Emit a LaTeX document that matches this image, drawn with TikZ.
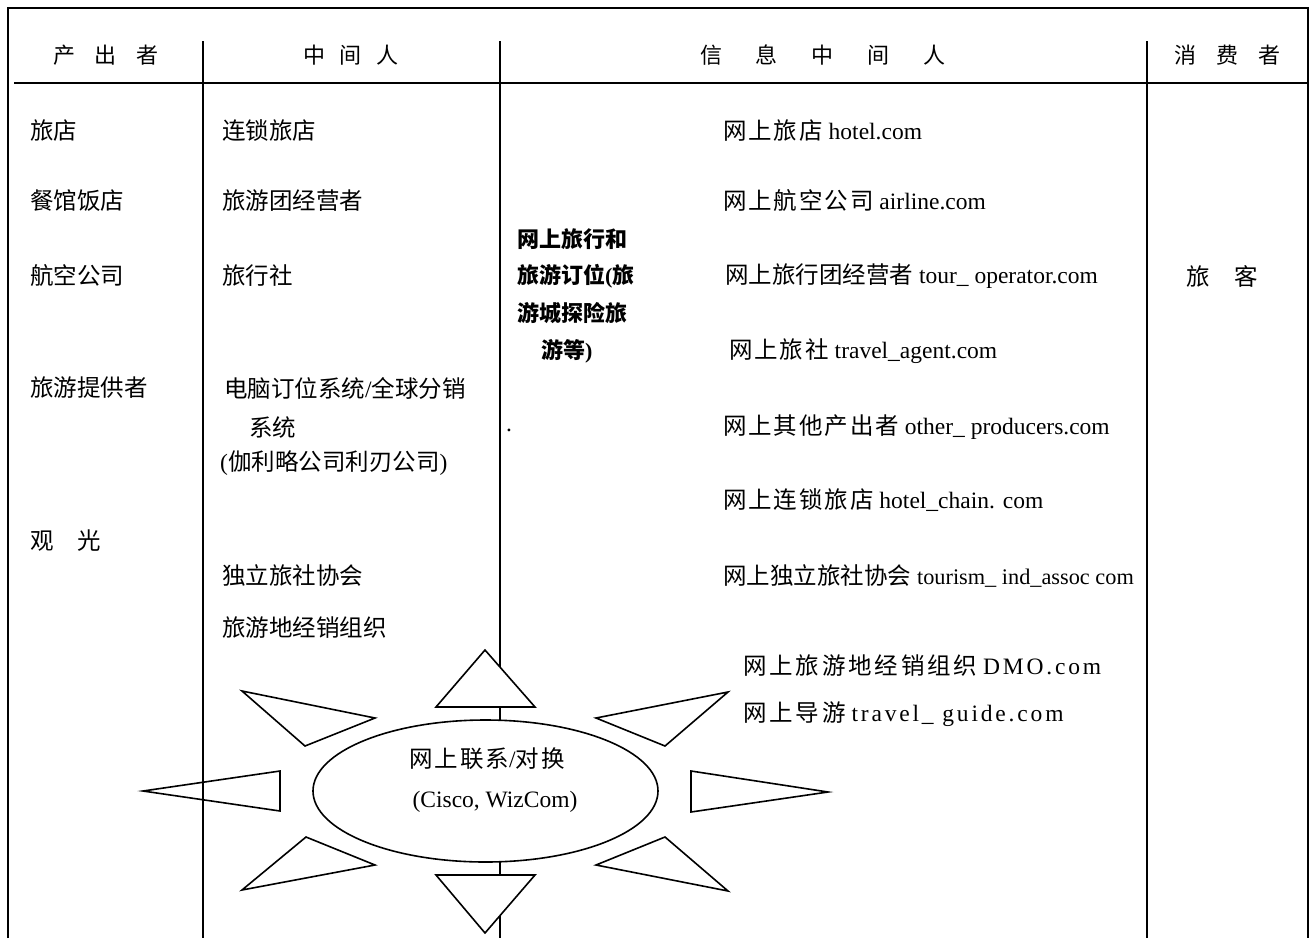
\documentclass[tikz,border=0pt]{standalone}
\usepackage{fontspec}
\usetikzlibrary{shapes.geometric}
\setmainfont{Liberation Serif}
\newfontfamily\cjkf{Noto Sans CJK SC}
\newfontfamily\cjkfs[LetterSpace=8]{Noto Sans CJK SC}
\newfontfamily\cjkfw[LetterSpace=12]{Noto Sans CJK SC}
\newfontfamily\serw[LetterSpace=12]{Liberation Serif}
\newcommand\zh[1]{{\cjkf #1}}
\newcommand\zhs[1]{{\cjkfs #1}}
\newcommand\zhw[1]{{\cjkfw #1}}
\tikzset{
  rule/.style={line width=1.4pt},
  headrule/.style={line width=2.2pt},
  tri/.style={draw, line width=1.6pt, fill=white, line join=miter},
  body/.style={anchor=west, inner sep=0pt, font=\fontsize{23.5}{28}\selectfont},
  head/.style={anchor=center, inner sep=0pt, font=\cjkf\fontsize{22}{26}\selectfont},
  boldtxt/.style={anchor=west, inner sep=0pt, font=\cjkf\bfseries\fontsize{22}{26}\selectfont},
}
\begin{document}
\begin{tikzpicture}[x=1pt,y=-1pt]
\useasboundingbox (0,0) rectangle (1315,938);
% frame and dividers
\draw[rule] (8,938) -- (8,8) -- (1308,8) -- (1308,938);
\draw[headrule] (14,83) -- (1307,83);
\draw[rule] (500,41) -- (500,938);
\draw[rule] (1147,41) -- (1147,938);
% headers
\node[head] (h1) at (106,55) {产\hspace{20pt}出\hspace{20pt}者};
\node[head] (h2) at (351,55) {中\hspace{15pt}间\hspace{15pt}人};
\node[head] (h3) at (823,55) {信\hspace{34pt}息\hspace{34pt}中\hspace{34pt}间\hspace{34pt}人};
\node[head] (h4) at (1227,55) {消\hspace{20pt}费\hspace{20pt}者};
% producers
\node[body] (p1) at (30,131) {\zh{旅店}};
\node[body] (p2) at (30,201) {\zh{餐馆饭店}};
\node[body] (p3) at (30,276) {\zh{航空公司}};
\node[body] (p4) at (30,388) {\zh{旅游提供者}};
\node[body] (p5) at (30,541) {\zh{观\hspace{24pt}光}};
% intermediaries
\node[body] (m1) at (222,131) {\zh{连锁旅店}};
\node[body] (m2) at (222,201) {\zh{旅游团经营者}};
\node[body] (m3) at (222,276) {\zh{旅行社}};
\node[body] (m4) at (224,388) {\zh{电脑订位系统}/\zh{全球分销}};
\node[body] (m5) at (249,427) {\zh{系统}};
\node[body] (m6) at (220,463) {(\zh{伽利略公司利刃公司})};
\node[body] (m7) at (222,576) {\zh{独立旅社协会}};
\node[body] (m8) at (222,628) {\zh{旅游地经销组织}};
% bold block
\node[boldtxt] (b1) at (517,239) {网上旅行和};
\node[boldtxt] (b2) at (517,276) {旅游订位{\rmfamily\bfseries (}旅};
\node[boldtxt] (b3) at (517,313) {游城探险旅};
\node[boldtxt] (b4) at (541,351) {游等{\rmfamily\bfseries )}};
\node[body] (dot) at (506,430) {.};
% info intermediaries
\node[body] (r1) at (723,131) {\zhs{网上旅店} hotel.com};
\node[body] (r2) at (723,201) {\zhs{网上航空公司} airline.com};
\node[body] (r3) at (725,276) {\zh{网上旅行团经营者} tour\_ operator.com};
\node[body] (r4) at (729,351) {\zhs{网上旅社} travel\_agent.com};
\node[body] (r5) at (723,427) {\zhs{网上其他产出者} other\_ producers.com};
\node[body] (r6) at (723,500) {\zhs{网上连锁旅店} hotel\_chain. com};
\node[body] (r7) at (723,576) {\zh{网上独立旅社协会} {\fontsize{22.3}{26}\selectfont tourism\_ ind\_assoc com}};
\node[body] (r8) at (743,666) {\zhw{网上旅游地经销组织} {\serw DMO.com}};
\node[body] (r9) at (743,714) {\zhw{网上导游} {\serw travel\_ guide.com}};
% consumers
\node[body] (c1) at (1186,276) {\zh{旅\hspace{25pt}客}};
% hub and rays
\draw[tri] (485,650) -- (535,707) -- (436,707) -- cycle;
\draw[tri] (436,875) -- (535,875) -- (485,933) -- cycle;
\draw[tri] (242,691) -- (375,718) -- (305,746) -- cycle;
\draw[tri] (143,791) -- (280,771) -- (280,811) -- cycle;
\draw[tri] (242,890) -- (306,837) -- (375,865) -- cycle;
\draw[tri] (728,692) -- (596,718) -- (665,746) -- cycle;
\draw[tri] (828,792) -- (691,771) -- (691,812) -- cycle;
\draw[tri] (728,891) -- (665,837) -- (596,865) -- cycle;
\node[draw, ellipse, line width=1.6pt, fill=white, minimum width=345pt, minimum height=142pt, inner sep=0pt] (hub) at (485.5,791) {};
\node[body, anchor=center] (hubt1) at (487,759) {\zhs{网上联系}/\zhs{对换}};
\node[body, anchor=center] (hubt2) at (495,802) {(Cisco, WizCom)};
\draw[rule] (203,41) -- (203,938);
\end{tikzpicture}
\end{document}
